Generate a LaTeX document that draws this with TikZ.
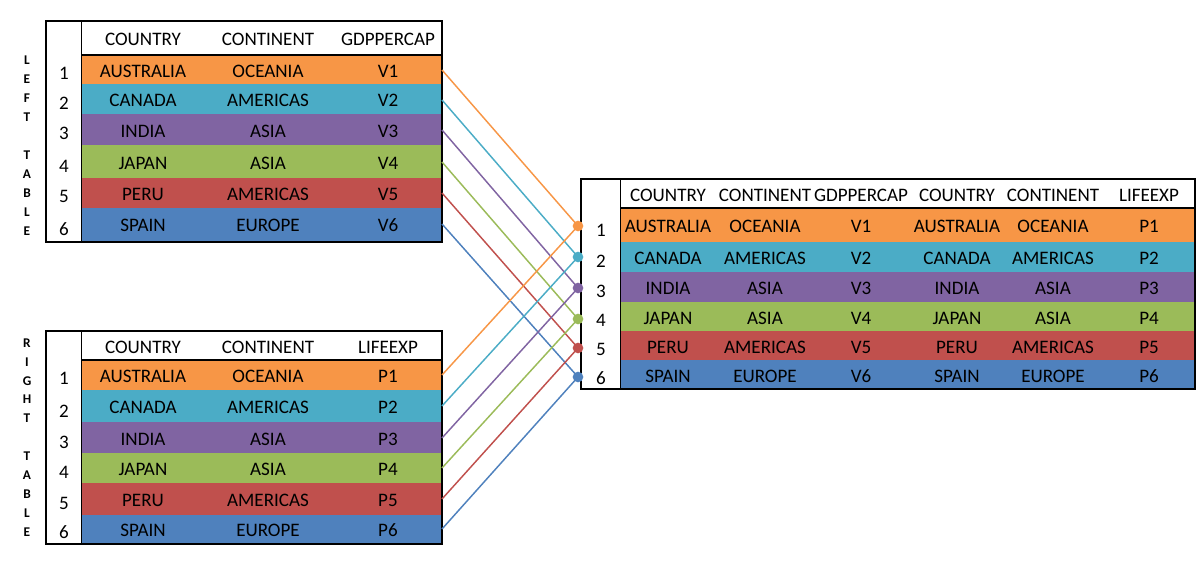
\documentclass[tikz,border=0pt]{standalone}
\usepackage{fontspec}
\setmainfont{Carlito}
\usepackage{xcolor}

\definecolor{cOrange}{HTML}{F79646}
\definecolor{cTeal}{HTML}{4BACC6}
\definecolor{cPurple}{HTML}{8064A2}
\definecolor{cGreen}{HTML}{9BBB59}
\definecolor{cRed}{HTML}{C0504D}
\definecolor{cBlue}{HTML}{4F81BD}

\tikzset{
  cell/.style={inner sep=0pt, text depth=0pt, font=\fontsize{14.3}{16}\selectfont},
  frame/.style={line width=1.5pt},
  split/.style={line width=0.75pt},
  link/.style={line width=1.1pt},
  joint/.style={circle, inner sep=0pt, minimum size=8pt},
  tag/.style={align=center, inner sep=0pt, font=\bfseries\fontsize{10}{14.2}\selectfont}
}

\begin{document}
\begin{tikzpicture}[x=0.75pt,y=0.75pt,yscale=-1,xscale=1]
\useasboundingbox (0,0) rectangle (1204,570);

%Shape: Left table rows
\fill[cOrange] (81,55) rectangle (442,84);
\fill[cTeal]   (81,84) rectangle (442,114);
\fill[cPurple] (81,114) rectangle (442,145);
\fill[cGreen]  (81,145) rectangle (442,178);
\fill[cRed]    (81,178) rectangle (442,208);
\fill[cBlue]   (81,208) rectangle (442,242);
\draw[split] (81,21) -- (81,242);
\draw[frame] (81,55) -- (442,55);
\draw[frame] (46,21) rectangle (442,242);

%Shape: Right table rows
\fill[cOrange] (81,360) rectangle (442,390);
\fill[cTeal]   (81,390) rectangle (442,422);
\fill[cPurple] (81,422) rectangle (442,453);
\fill[cGreen]  (81,453) rectangle (442,483);
\fill[cRed]    (81,483) rectangle (442,515);
\fill[cBlue]   (81,515) rectangle (442,544);
\draw[split] (81,331) -- (81,544);
\draw[frame] (81,360) -- (442,360);
\draw[frame] (46,331) rectangle (442,544);

%Shape: Joined table rows
\fill[cOrange] (620,208) rectangle (1195,242);
\fill[cTeal]   (620,242) rectangle (1195,272);
\fill[cPurple] (620,272) rectangle (1195,302);
\fill[cGreen]  (620,302) rectangle (1195,331);
\fill[cRed]    (620,331) rectangle (1195,360);
\fill[cBlue]   (620,360) rectangle (1195,389);
\draw[split] (620,179) -- (620,389);
\draw[frame] (620,208) -- (1195,208);
\draw[frame] (581,179) rectangle (1195,389);

% Text Node: side tags
\node[tag] (lefttag) at (27,145.5) {L\\E\\F\\T\\\mbox{}\\T\\A\\B\\L\\E};
\node[tag] (righttag) at (27,437.5) {R\\I\\G\\H\\T\\\mbox{}\\T\\A\\B\\L\\E};

% Text Node: left table
\node[cell] (lhA) at (143,39.5) {COUNTRY};
\node[cell] (lhB) at (268,39.5) {CONTINENT};
\node[cell] (lhC) at (388,39.5) {GDPPERCAP};
\node[cell] (ln1) at (64,73) {1};
\node[cell] (ln2) at (64,103.5) {2};
\node[cell] (ln3) at (64,133.5) {3};
\node[cell] (ln4) at (64,166.5) {4};
\node[cell] (ln5) at (64,196.5) {5};
\node[cell] (ln6) at (64,229.5) {6};
\node[cell] (l1A) at (143,71) {AUSTRALIA};
\node[cell] (l1B) at (268,71) {OCEANIA};
\node[cell] (l1C) at (388,71) {V1};
\node[cell] (l2A) at (143,100.5) {CANADA};
\node[cell] (l2B) at (268,100.5) {AMERICAS};
\node[cell] (l2C) at (388,100.5) {V2};
\node[cell] (l3A) at (143,131) {INDIA};
\node[cell] (l3B) at (268,131) {ASIA};
\node[cell] (l3C) at (388,131) {V3};
\node[cell] (l4A) at (143,163) {JAPAN};
\node[cell] (l4B) at (268,163) {ASIA};
\node[cell] (l4C) at (388,163) {V4};
\node[cell] (l5A) at (143,194.5) {PERU};
\node[cell] (l5B) at (268,194.5) {AMERICAS};
\node[cell] (l5C) at (388,194.5) {V5};
\node[cell] (l6A) at (143,225) {SPAIN};
\node[cell] (l6B) at (268,225) {EUROPE};
\node[cell] (l6C) at (388,225) {V6};

% Text Node: right table
\node[cell] (rhA) at (143,347) {COUNTRY};
\node[cell] (rhB) at (268,347) {CONTINENT};
\node[cell] (rhC) at (388,347) {LIFEEXP};
\node[cell] (rn1) at (64,378) {1};
\node[cell] (rn2) at (64,411) {2};
\node[cell] (rn3) at (64,442) {3};
\node[cell] (rn4) at (64,472) {4};
\node[cell] (rn5) at (64,503) {5};
\node[cell] (rn6) at (64,532.5) {6};
\node[cell] (r1A) at (143,376) {AUSTRALIA};
\node[cell] (r1B) at (268,376) {OCEANIA};
\node[cell] (r1C) at (388,376) {P1};
\node[cell] (r2A) at (143,407) {CANADA};
\node[cell] (r2B) at (268,407) {AMERICAS};
\node[cell] (r2C) at (388,407) {P2};
\node[cell] (r3A) at (143,439) {INDIA};
\node[cell] (r3B) at (268,439) {ASIA};
\node[cell] (r3C) at (388,439) {P3};
\node[cell] (r4A) at (143,469.5) {JAPAN};
\node[cell] (r4B) at (268,469.5) {ASIA};
\node[cell] (r4C) at (388,469.5) {P4};
\node[cell] (r5A) at (143,500.5) {PERU};
\node[cell] (r5B) at (268,500.5) {AMERICAS};
\node[cell] (r5C) at (388,500.5) {P5};
\node[cell] (r6A) at (143,530.5) {SPAIN};
\node[cell] (r6B) at (268,530.5) {EUROPE};
\node[cell] (r6C) at (388,530.5) {P6};

% Text Node: joined table
\node[cell] (jhA) at (668,195) {COUNTRY};
\node[cell] (jhB) at (765,195) {CONTINENT};
\node[cell] (jhC) at (861,195) {GDPPERCAP};
\node[cell] (jhD) at (957,195) {COUNTRY};
\node[cell] (jhE) at (1053,195) {CONTINENT};
\node[cell] (jhF) at (1149,195) {LIFEEXP};
\node[cell] (jn1) at (601,230) {1};
\node[cell] (jn2) at (601,261.5) {2};
\node[cell] (jn3) at (601,291.5) {3};
\node[cell] (jn4) at (601,320.5) {4};
\node[cell] (jn5) at (601,349) {5};
\node[cell] (jn6) at (601,378) {6};
\node[cell] (j1A) at (668,226) {AUSTRALIA};
\node[cell] (j1B) at (765,226) {OCEANIA};
\node[cell] (j1C) at (861,226) {V1};
\node[cell] (j1D) at (957,226) {AUSTRALIA};
\node[cell] (j1E) at (1053,226) {OCEANIA};
\node[cell] (j1F) at (1149,226) {P1};
\node[cell] (j2A) at (668,258) {CANADA};
\node[cell] (j2B) at (765,258) {AMERICAS};
\node[cell] (j2C) at (861,258) {V2};
\node[cell] (j2D) at (957,258) {CANADA};
\node[cell] (j2E) at (1053,258) {AMERICAS};
\node[cell] (j2F) at (1149,258) {P2};
\node[cell] (j3A) at (668,288) {INDIA};
\node[cell] (j3B) at (765,288) {ASIA};
\node[cell] (j3C) at (861,288) {V3};
\node[cell] (j3D) at (957,288) {INDIA};
\node[cell] (j3E) at (1053,288) {ASIA};
\node[cell] (j3F) at (1149,288) {P3};
\node[cell] (j4A) at (668,318) {JAPAN};
\node[cell] (j4B) at (765,318) {ASIA};
\node[cell] (j4C) at (861,318) {V4};
\node[cell] (j4D) at (957,318) {JAPAN};
\node[cell] (j4E) at (1053,318) {ASIA};
\node[cell] (j4F) at (1149,318) {P4};
\node[cell] (j5A) at (668,347) {PERU};
\node[cell] (j5B) at (765,347) {AMERICAS};
\node[cell] (j5C) at (861,347) {V5};
\node[cell] (j5D) at (957,347) {PERU};
\node[cell] (j5E) at (1053,347) {AMERICAS};
\node[cell] (j5F) at (1149,347) {P5};
\node[cell] (j6A) at (668,376) {SPAIN};
\node[cell] (j6B) at (765,376) {EUROPE};
\node[cell] (j6C) at (861,376) {V6};
\node[cell] (j6D) at (957,376) {SPAIN};
\node[cell] (j6E) at (1053,376) {EUROPE};
\node[cell] (j6F) at (1149,376) {P6};

% row ends on the two source tables
\coordinate (lo1) at (442,70);
\coordinate (lo2) at (442,100);
\coordinate (lo3) at (442,130);
\coordinate (lo4) at (442,162);
\coordinate (lo5) at (442,193);
\coordinate (lo6) at (442,224);
\coordinate (ro1) at (442,375);
\coordinate (ro2) at (442,406);
\coordinate (ro3) at (442,438);
\coordinate (ro4) at (442,468);
\coordinate (ro5) at (442,499);
\coordinate (ro6) at (442,529);

% join points on the joined table
\coordinate (jp1) at (578,226);
\coordinate (jp2) at (578,257);
\coordinate (jp3) at (578,288);
\coordinate (jp4) at (578,319);
\coordinate (jp5) at (578,348);
\coordinate (jp6) at (578,377);

% connectors
\draw[link, cOrange] (lo1) -- (jp1);
\draw[link, cTeal]   (lo2) -- (jp2);
\draw[link, cPurple] (lo3) -- (jp3);
\draw[link, cGreen]  (lo4) -- (jp4);
\draw[link, cRed]    (lo5) -- (jp5);
\draw[link, cBlue]   (lo6) -- (jp6);
\draw[link, cOrange] (ro1) -- (jp1);
\draw[link, cTeal]   (ro2) -- (jp2);
\draw[link, cPurple] (ro3) -- (jp3);
\draw[link, cGreen]  (ro4) -- (jp4);
\draw[link, cRed]    (ro5) -- (jp5);
\draw[link, cBlue]   (ro6) -- (jp6);

% dots
\node[joint, fill=cOrange] (jd1) at (jp1) {};
\node[joint, fill=cTeal]   (jd2) at (jp2) {};
\node[joint, fill=cPurple] (jd3) at (jp3) {};
\node[joint, fill=cGreen]  (jd4) at (jp4) {};
\node[joint, fill=cRed]    (jd5) at (jp5) {};
\node[joint, fill=cBlue]   (jd6) at (jp6) {};

\end{tikzpicture}
\end{document}
